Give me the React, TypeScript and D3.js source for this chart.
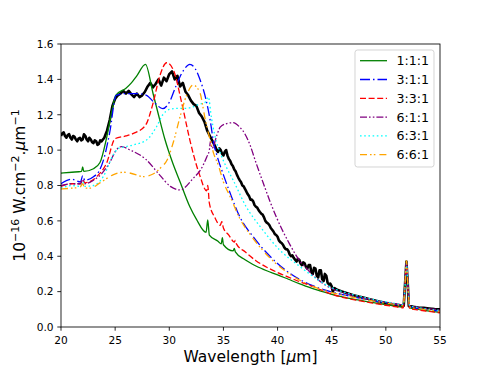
import React from "react";
import * as d3 from "d3";

const xTicks = [20, 25, 30, 35, 40, 45, 50, 55];
const yTicks = [0.0, 0.2, 0.4, 0.6, 0.8, 1.0, 1.2, 1.4, 1.6];

const observed: [number, number][] = [
  [20.0, 1.08], [20.12, 1.095], [20.25, 1.1], [20.37, 1.08], [20.5, 1.07], [20.62, 1.085], [20.75, 1.09], [20.87, 1.07],
  [21.0, 1.06], [21.12, 1.08], [21.25, 1.075], [21.37, 1.06], [21.5, 1.05], [21.62, 1.065], [21.75, 1.07], [21.87, 1.055],
  [22.0, 1.06], [22.12, 1.09], [22.25, 1.08], [22.37, 1.06], [22.5, 1.05], [22.62, 1.07], [22.75, 1.06], [22.87, 1.045],
  [23.0, 1.04], [23.12, 1.055], [23.25, 1.05], [23.37, 1.03], [23.5, 1.035], [23.62, 1.055], [23.75, 1.05], [23.87, 1.06],
  [24.0, 1.07], [24.12, 1.09], [24.25, 1.11], [24.5, 1.17], [24.75, 1.25], [25.0, 1.29], [25.25, 1.31], [25.5, 1.32], [25.75, 1.335],
  [26.0, 1.32], [26.25, 1.335], [26.5, 1.315], [26.75, 1.3], [27.0, 1.32], [27.25, 1.3], [27.5, 1.31], [27.75, 1.33],
  [28.0, 1.36], [28.25, 1.38], [28.5, 1.355], [28.75, 1.375], [29.0, 1.4], [29.25, 1.365], [29.5, 1.41], [29.75, 1.39],
  [30.0, 1.43], [30.25, 1.445], [30.5, 1.4], [30.75, 1.42], [31.0, 1.36], [31.25, 1.38], [31.5, 1.33], [31.75, 1.31],
  [32.0, 1.28], [32.25, 1.26], [32.5, 1.25], [32.75, 1.21], [33.0, 1.19], [33.25, 1.16], [33.5, 1.11], [33.75, 1.08],
  [34.0, 1.05], [34.12, 1.035], [34.25, 1.02], [34.37, 1.0], [34.5, 0.99], [34.62, 1.01], [34.75, 1.0], [34.87, 0.98],
  [35.0, 0.97], [35.12, 0.99], [35.25, 1.0], [35.37, 0.97], [35.5, 0.95], [35.62, 0.94], [35.75, 0.92], [35.87, 0.91],
  [36.0, 0.89], [36.12, 0.88], [36.25, 0.86], [36.37, 0.845], [36.5, 0.83], [36.62, 0.82], [36.75, 0.8], [36.87, 0.795],
  [37.0, 0.78], [37.12, 0.765], [37.25, 0.75], [37.37, 0.74], [37.5, 0.72], [37.62, 0.72], [37.75, 0.71], [37.87, 0.69],
  [38.0, 0.68], [38.12, 0.675], [38.25, 0.66], [38.37, 0.65], [38.5, 0.64], [38.62, 0.635], [38.75, 0.62], [38.87, 0.6],
  [39.0, 0.59], [39.12, 0.585], [39.25, 0.575], [39.37, 0.56], [39.5, 0.55], [39.62, 0.54], [39.75, 0.525], [39.87, 0.52],
  [40.0, 0.51], [40.12, 0.49], [40.25, 0.48], [40.37, 0.475], [40.5, 0.465], [40.62, 0.45], [40.75, 0.44], [40.87, 0.44],
  [41.0, 0.43], [41.12, 0.41], [41.25, 0.4], [41.37, 0.405], [41.5, 0.39], [41.62, 0.38], [41.75, 0.37], [41.87, 0.385],
  [42.0, 0.38], [42.12, 0.36], [42.25, 0.35], [42.37, 0.365], [42.5, 0.36], [42.62, 0.34], [42.75, 0.33], [42.87, 0.35],
  [43.0, 0.35], [43.12, 0.31], [43.25, 0.3], [43.37, 0.335], [43.5, 0.33], [43.62, 0.29], [43.75, 0.28], [43.87, 0.32],
  [44.0, 0.32], [44.12, 0.27], [44.25, 0.26], [44.37, 0.3], [44.5, 0.29], [44.62, 0.25], [44.75, 0.24], [44.87, 0.245],
  [45.0, 0.23], [45.1, 0.2], [45.25, 0.22], [45.5, 0.21],
  [46.0, 0.2], [46.5, 0.19], [47.0, 0.18], [47.5, 0.172], [48.0, 0.165], [48.5, 0.157], [49.0, 0.15], [49.5, 0.142],
  [50.0, 0.136], [50.5, 0.13], [51.0, 0.125], [51.5, 0.121], [51.65, 0.12], [51.78, 0.25], [51.9, 0.37], [52.02, 0.25],
  [52.12, 0.118], [52.5, 0.115], [53.0, 0.11], [53.5, 0.108], [54.0, 0.105], [54.5, 0.102], [55.0, 0.1],
];

const model111: [number, number][] = [
  [20, 0.87], [21, 0.875], [21.9, 0.88], [22.0, 0.905], [22.1, 0.88], [23, 0.895], [23.6, 0.93], [24.2, 1.067],
  [24.7, 1.22], [25.05, 1.31], [26, 1.35], [26.5, 1.38], [27, 1.42], [27.8, 1.485], [28.5, 1.32], [29, 1.2],
  [29.6, 1.06], [30.3, 0.93], [31, 0.82], [31.9, 0.68], [32.5, 0.61], [33.4, 0.535], [33.55, 0.605], [33.7, 0.52],
  [34.5, 0.485], [34.8, 0.47], [34.9, 0.505], [35, 0.465], [35.9, 0.43], [36, 0.445], [36.1, 0.425], [37, 0.38],
  [38, 0.345], [39, 0.318], [40, 0.295], [41, 0.27], [42, 0.245], [43, 0.222], [44, 0.203], [45, 0.185],
  [46, 0.17], [47, 0.157], [48, 0.146], [49, 0.136], [50, 0.126], [51, 0.117], [51.6, 0.112], [51.75, 0.2],
  [51.9, 0.36], [52.05, 0.2], [52.2, 0.108], [53, 0.1], [54, 0.09], [55, 0.083],
];

const model311: [number, number][] = [
  [20, 0.81], [21, 0.835], [21.8, 0.82], [22, 0.855], [22.2, 0.83], [23, 0.85], [23.5, 0.88], [24, 0.96],
  [24.5, 1.1], [25.1, 1.31], [26, 1.32], [27, 1.32], [27.9, 1.31], [28.6, 1.27], [29.4, 1.235], [30, 1.27],
  [30.6, 1.36], [31.3, 1.45], [31.9, 1.485], [32.4, 1.46], [32.8, 1.405], [33.45, 1.27], [33.8, 1.16], [34.1, 1.04],
  [34.4, 0.97], [35, 0.86], [35.6, 0.76], [36.5, 0.625], [37.75, 0.51], [39.3, 0.4], [41.1, 0.305], [43.3, 0.232],
  [45, 0.198], [46, 0.183], [47, 0.17], [48, 0.158], [49, 0.146], [50, 0.136], [51, 0.127], [51.6, 0.121],
  [51.75, 0.21], [51.9, 0.36], [52.05, 0.21], [52.2, 0.115], [53, 0.105], [54, 0.097], [55, 0.09],
];

const model331: [number, number][] = [
  [20, 0.795], [21, 0.81], [21.8, 0.81], [22, 0.835], [22.2, 0.815], [23.3, 0.85], [24.2, 0.925], [25, 1.065],
  [26, 1.08], [26.7, 1.095], [27.8, 1.14], [28.5, 1.265], [29.1, 1.415], [29.76, 1.494], [30.4, 1.45], [31.1, 1.28],
  [31.9, 1.057], [32.3, 0.96], [32.8, 0.86], [33.45, 0.77], [33.55, 0.8], [33.7, 0.7], [34.2, 0.62], [34.7, 0.575],
  [34.85, 0.595], [35, 0.56], [35.5, 0.52], [36, 0.48], [36.1, 0.49], [36.2, 0.47], [37, 0.425], [38, 0.375],
  [39, 0.338], [40, 0.308], [41, 0.282], [42, 0.257], [43.3, 0.228], [44, 0.21], [45, 0.186], [46, 0.168],
  [47, 0.155], [48, 0.143], [49, 0.133], [50, 0.123], [51, 0.114], [51.6, 0.108], [51.75, 0.2], [51.9, 0.36],
  [52.05, 0.2], [52.2, 0.104], [53, 0.096], [54, 0.088], [55, 0.08],
];

const model611: [number, number][] = [
  [20, 0.8], [21, 0.81], [21.8, 0.81], [22, 0.835], [22.2, 0.81], [23, 0.83], [23.8, 0.87], [24.5, 0.93],
  [25.1, 1.0], [25.6, 1.02], [26.4, 1.0], [27.8, 0.95], [29.1, 0.86], [30.1, 0.795], [31, 0.775], [32.2, 0.84],
  [33, 0.9], [33.45, 0.96], [33.7, 1.0], [33.8, 1.05], [33.95, 1.01], [34.4, 1.085], [34.7, 1.13], [35.3, 1.15],
  [35.9, 1.155], [36.5, 1.13], [37, 1.09], [37.45, 1.03], [38, 0.93], [38.7, 0.81], [39.3, 0.71], [39.9, 0.62],
  [41.1, 0.47], [42.1, 0.37], [42.7, 0.33], [43.3, 0.29], [44, 0.255], [45.1, 0.215], [46, 0.195], [47, 0.178],
  [48, 0.163], [49, 0.15], [50, 0.14], [51, 0.13], [51.6, 0.125], [51.75, 0.22], [51.9, 0.365], [52.05, 0.22],
  [52.2, 0.12], [53, 0.11], [54, 0.103], [55, 0.097],
];

const model631: [number, number][] = [
  [20, 0.785], [21, 0.8], [21.8, 0.795], [22, 0.82], [22.2, 0.795], [23, 0.8], [23.9, 0.85], [24.8, 0.97],
  [25.3, 1.01], [26, 1.02], [26.7, 1.03], [27.9, 1.057], [28.8, 1.13], [29.4, 1.2], [30, 1.23], [30.7, 1.236],
  [31.6, 1.236], [32.2, 1.245], [32.8, 1.26], [33.3, 1.27], [33.6, 1.3], [33.9, 1.18], [34.2, 1.085], [34.8, 0.97],
  [35.3, 0.9], [35.9, 0.83], [37.1, 0.68], [38.4, 0.567], [40.2, 0.435], [42.1, 0.34], [43.6, 0.272], [45, 0.222],
  [46, 0.2], [47, 0.182], [48, 0.167], [49, 0.153], [50, 0.142], [51, 0.132], [51.6, 0.126], [51.75, 0.21],
  [51.9, 0.36], [52.05, 0.21], [52.2, 0.12], [53, 0.11], [54, 0.1], [55, 0.093],
];

const model661: [number, number][] = [
  [20, 0.78], [21, 0.785], [21.75, 0.79], [22, 0.81], [22.2, 0.785], [22.7, 0.785], [23.6, 0.815], [24.8, 0.86],
  [25.75, 0.875], [27, 0.86], [27.5, 0.85], [28.5, 0.865], [29.2, 0.9], [29.8, 0.944], [30.4, 1.05], [31, 1.19],
  [31.6, 1.31], [32.2, 1.368], [32.8, 1.33], [33.3, 1.18], [33.8, 1.05], [34.1, 0.98], [34.5, 0.92], [35, 0.82],
  [35.6, 0.74], [36.5, 0.615], [37.75, 0.5], [39.3, 0.39], [41.1, 0.3], [43.3, 0.228], [45, 0.195], [46, 0.18],
  [47, 0.168], [48, 0.156], [49, 0.145], [50, 0.135], [51, 0.126], [51.6, 0.12], [51.75, 0.22], [51.9, 0.375],
  [52.05, 0.22], [52.2, 0.114], [53, 0.104], [54, 0.096], [55, 0.089],
];

const seriesLabels = ["1:1:1", "3:1:1", "3:3:1", "6:1:1", "6:3:1", "6:6:1"];
const seriesData = [model111, model311, model331, model611, model631, model661];
const seriesColors = ["#008000", "#0000ff", "#ff0000", "#800080", "#00ffff", "#ffa500"];
const seriesDash = ["none", "10,3,1.5,3", "6,2.6", "7,2,1.6,2.2,1.6,2", "1.6,2.6", "7,3,1.6,2.2,1.6,4"];

const W = 490;
const H = 368;
const M = { left: 61, right: 440, top: 44, bottom: 327 };
const FONT = "'DejaVu Sans', sans-serif";

export default function App() {
  const x = d3.scaleLinear().domain([20, 55]).range([M.left, M.right]);
  const y = d3.scaleLinear().domain([0, 1.6]).range([M.bottom, M.top]);
  const modelLine = d3
    .line<[number, number]>()
    .x((d) => x(d[0]))
    .y((d) => y(d[1]))
    .curve(d3.curveMonotoneX);
  const obsLine = d3
    .line<[number, number]>()
    .x((d) => x(d[0]))
    .y((d) => y(d[1]));

  const legX = 355;
  const legY = 50;
  const legW = 79;
  const legH = 117;
  const rowY = (i: number) => 60.7 + i * 18.8;

  return (
    <svg
      width={W}
      height={H}
      style={{ position: "absolute", left: 0, top: 0, background: "#fff" }}
      fontFamily={FONT}
    >
      <defs>
        <clipPath id="plotclip">
          <rect x={M.left} y={M.top} width={M.right - M.left} height={M.bottom - M.top} />
        </clipPath>
      </defs>
      <rect x={0} y={0} width={W} height={H} fill="#fff" />
      <g clipPath="url(#plotclip)">
        <path d={obsLine(observed) || ""} fill="none" stroke="#000" strokeWidth={2.6} strokeLinejoin="round" />
        {seriesData.map((s, i) => (
          <path
            key={seriesLabels[i]}
            d={modelLine(s) || ""}
            fill="none"
            stroke={seriesColors[i]}
            strokeWidth={1.3}
            strokeDasharray={seriesDash[i]}
          />
        ))}
      </g>
      <rect
        x={M.left}
        y={M.top}
        width={M.right - M.left}
        height={M.bottom - M.top}
        fill="none"
        stroke="#000"
        strokeWidth={0.85}
      />
      {xTicks.map((t) => (
        <g key={"x" + t}>
          <line x1={x(t)} x2={x(t)} y1={M.bottom} y2={M.bottom + 3.7} stroke="#000" strokeWidth={0.85} />
          <text x={x(t)} y={344} fontSize={10.6} textAnchor="middle" fill="#000">
            {t}
          </text>
        </g>
      ))}
      {yTicks.map((t) => (
        <g key={"y" + t}>
          <line x1={M.left - 3.7} x2={M.left} y1={y(t)} y2={y(t)} stroke="#000" strokeWidth={0.85} />
          <text x={53.6} y={y(t)} dy="0.36em" fontSize={10.6} textAnchor="end" fill="#000">
            {t.toFixed(1)}
          </text>
        </g>
      ))}
      <text x={(M.left + M.right) / 2} y={362} fontSize={15.5} textAnchor="middle" fill="#000">
        Wavelength [<tspan fontStyle="italic">μ</tspan>m]
      </text>
      <text
        transform={`translate(25, ${(M.top + M.bottom) / 2}) rotate(-90)`}
        fontSize={15.5}
        textAnchor="middle"
        fill="#000"
      >
        10
        <tspan fontSize={11} dy={-6}>−16</tspan>
        <tspan dy={6}> W.cm</tspan>
        <tspan fontSize={11} dy={-6}>−2</tspan>
        <tspan dy={6}>.</tspan>
        <tspan fontStyle="italic">μ</tspan>
        <tspan>m</tspan>
        <tspan fontSize={11} dy={-6}>−1</tspan>
      </text>
      <g>
        <rect
          x={legX}
          y={legY}
          width={legW}
          height={legH}
          rx={2.5}
          fill="#fff"
          fillOpacity={0.8}
          stroke="#cccccc"
          strokeWidth={0.85}
        />
        {seriesLabels.map((lab, i) => (
          <g key={"leg" + lab}>
            <line
              x1={360}
              x2={387}
              y1={rowY(i)}
              y2={rowY(i)}
              stroke={seriesColors[i]}
              strokeWidth={1.3}
              strokeDasharray={seriesDash[i]}
            />
            <text x={396.5} y={rowY(i)} dy="0.36em" fontSize={12.6} fill="#000">
              {lab}
            </text>
          </g>
        ))}
      </g>
    </svg>
  );
}
